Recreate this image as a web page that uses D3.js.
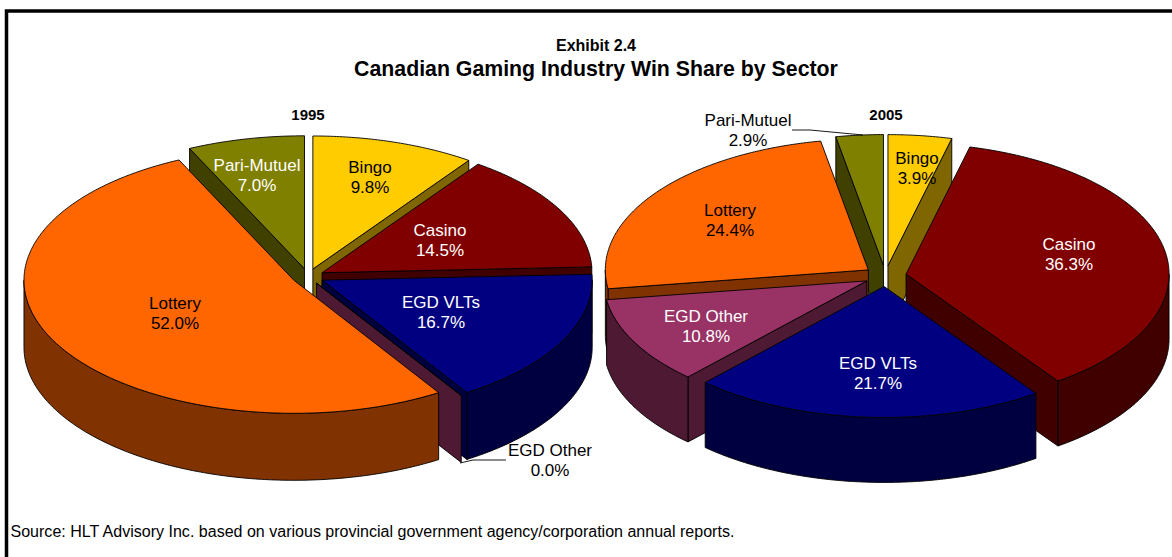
<!DOCTYPE html>
<html>
<head>
<meta charset="utf-8">
<script src="https://cdn.jsdelivr.net/npm/d3@7"></script>
<style>
  html, body { margin: 0; background: #fff; }
  svg { display: block; }
  text { font-family: "Liberation Sans", Arial, sans-serif; }
</style>
</head>
<body>
<svg width="1172" height="557"></svg>
<script>
// data
var categories = ["Bingo", "Casino", "EGD VLTs", "EGD Other", "Lottery", "Pari-Mutuel"];
var share1995 = [9.8, 14.5, 16.7, 0.0, 52.0, 7.0];
var share2005 = [3.9, 36.3, 21.7, 10.8, 24.4, 2.9];
var years = ["1995", "2005"];

var topColors = ["#ffcc00", "#800000", "#000080", "#993366", "#ff6600", "#808000"];
var sideColors = ["#806600", "#400000", "#000040", "#4d1933", "#803300", "#404000"];
var labelColors = ["#000", "#fff", "#fff", "#fff", "#000", "#fff"];

var svg = d3.select("svg");

// frame runs off the right and bottom of the page
svg.append("rect")
    .attr("x", 6.5).attr("y", 11)
    .attr("width", 1300).attr("height", 700)
    .attr("fill", "none").attr("stroke", "#000").attr("stroke-width", 3.5);

var pieLayout = d3.pie().sort(null).value(function(d) { return d; })
    .startAngle(0).endAngle(2 * Math.PI);
var line = d3.line();
var fmt = d3.format(".1f");

function drawPie(values, o) {
  var slices = pieLayout(values);
  var g = svg.append("g");

  function apex(d) {
    var mid = (d.startAngle + d.endAngle) / 2;
    return [o.cx + o.explode * Math.sin(mid), o.cy - o.explode * Math.cos(mid) * o.ry / o.rx];
  }
  function rim(d, a) {
    var c = apex(d);
    return [c[0] + o.rx * Math.sin(a), c[1] - o.ry * Math.cos(a)];
  }
  function rimPoints(d, a0, a1) {
    var n = Math.max(1, Math.ceil((a1 - a0) * 90));
    return d3.range(n + 1).map(function(i) { return rim(d, a0 + (a1 - a0) * i / n); });
  }
  function down(p) { return [p[0], p[1] + o.depth]; }

  function face(d, pts, fill) {
    g.append("path")
        .attr("d", line(pts) + "Z")
        .attr("fill", fill)
        .attr("stroke", "#000")
        .attr("stroke-width", 0.9)
        .attr("stroke-linejoin", "round");
  }

  function radialWall(d, a, fill) {
    var c = apex(d), p = rim(d, a);
    face(d, [c, p, down(p), down(c)], fill);
  }

  // back to front
  o.order.forEach(function(i) {
    var d = slices[i];
    var side = sideColors[i];
    // only the cut faces that look toward the viewer
    if (Math.sin(d.startAngle) < -1e-6) radialWall(d, d.startAngle, side);
    if (Math.sin(d.endAngle) > 1e-6) radialWall(d, d.endAngle, side);

    // outer wall, front half of the rim only
    var a0 = Math.max(d.startAngle, Math.PI / 2),
        a1 = Math.min(d.endAngle, 3 * Math.PI / 2);
    if (a1 > a0) {
      var arc = rimPoints(d, a0, a1);
      face(d, arc.concat(arc.slice().reverse().map(down)), side);
    }

    face(d, [apex(d)].concat(rimPoints(d, d.startAngle, d.endAngle)), topColors[i]);
  });

  // leader lines
  o.leaders.forEach(function(pts) {
    g.append("path")
        .attr("d", line(pts))
        .attr("fill", "none")
        .attr("stroke", "#000")
        .attr("stroke-width", 0.9);
  });

  // labels: name on top, percent under it
  var labels = g.selectAll("g.label")
    .data(slices)
    .enter().append("g")
      .attr("class", "label")
      .attr("text-anchor", "middle")
      .attr("font-size", 17)
      .attr("fill", function(d, i) { return o.outside.indexOf(i) >= 0 ? "#000" : labelColors[i]; })
      .attr("transform", function(d, i) { return "translate(" + o.labels[i] + ")"; });

  labels.append("text")
      .text(function(d, i) { return categories[i]; });
  labels.append("text")
      .attr("y", 20)
      .text(function(d) { return fmt(d.value) + "%"; });

  g.append("text")
      .attr("x", o.yearX).attr("y", 120)
      .attr("text-anchor", "middle")
      .attr("font-size", 15)
      .attr("font-weight", "bold")
      .text(o.year);
}

drawPie(share1995, {
  year: years[0], yearX: 308,
  cx: 308, cy: 276.5, rx: 270, ry: 133, depth: 67, explode: 16,
  order: [5, 0, 1, 2, 3, 4],
  outside: [3],
  labels: [[370, 173], [440, 236], [441, 308], [550, 456], [175, 309], [257, 171]],
  leaders: [[[506, 460], [473, 460], [460, 463]]]
});

drawPie(share2005, {
  year: years[1], yearX: 886,
  cx: 885.4, cy: 276, rx: 263, ry: 131, depth: 65, explode: 21,
  order: [5, 0, 1, 4, 3, 2],
  outside: [5],
  labels: [[917, 164], [1069, 250], [878, 369], [706, 322], [730, 216], [748, 126]],
  leaders: [[[792, 130], [810, 130], [863, 135]]]
});

svg.append("text")
    .attr("x", 596).attr("y", 51)
    .attr("text-anchor", "middle")
    .attr("font-size", 16)
    .attr("font-weight", "bold")
    .text("Exhibit 2.4");

svg.append("text")
    .attr("x", 596).attr("y", 76)
    .attr("text-anchor", "middle")
    .attr("font-size", 21.3)
    .attr("font-weight", "bold")
    .text("Canadian Gaming Industry Win Share by Sector");

svg.append("text")
    .attr("x", 10.5).attr("y", 537)
    .attr("font-size", 16.05)
    .text("Source: HLT Advisory Inc. based on various provincial government agency/corporation annual reports.");
</script>
</body>
</html>
